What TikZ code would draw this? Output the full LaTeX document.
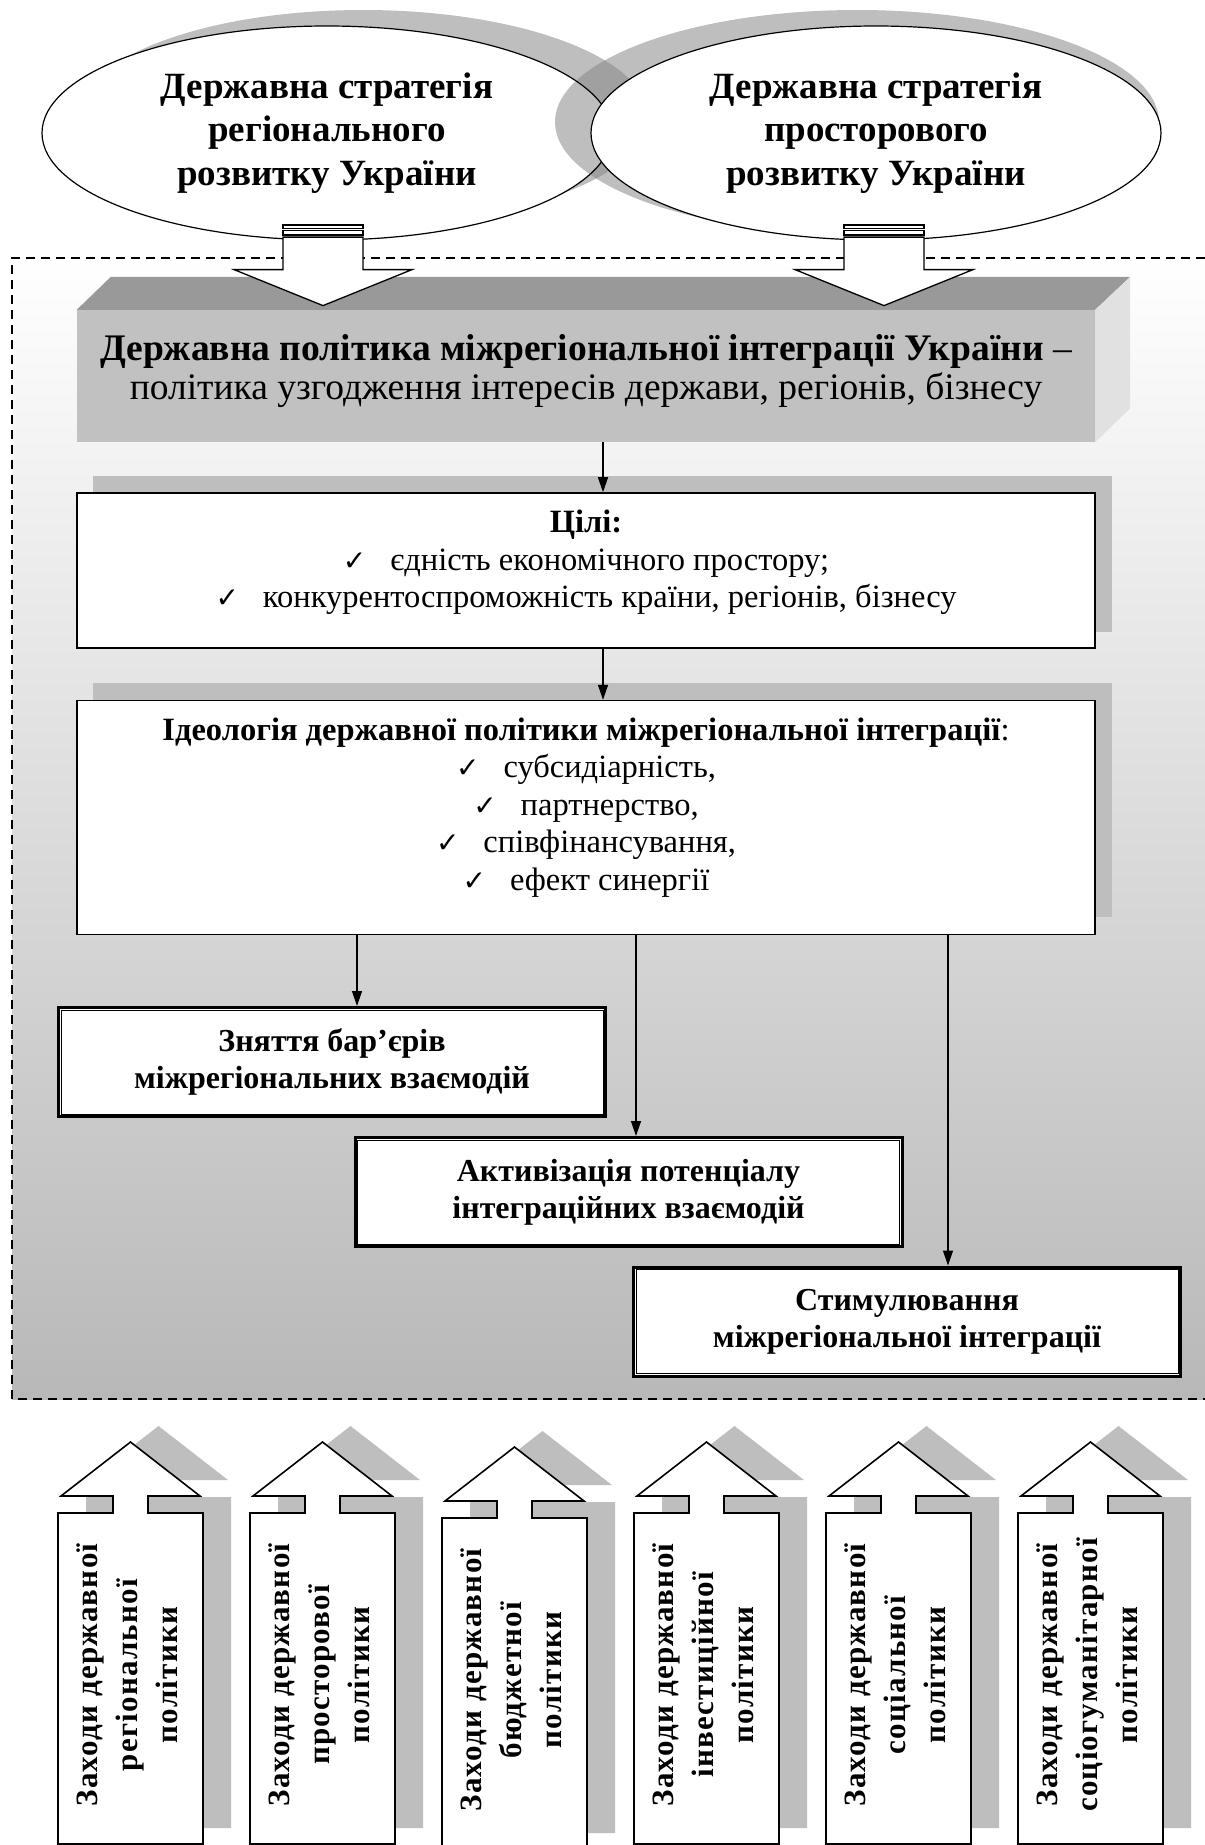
\documentclass[tikz,border=0pt]{standalone}
\usepackage{fontspec}
\setmainfont{Liberation Serif}
\newfontfamily\symfont{DejaVu Sans}
\usepackage{tikz}
\usetikzlibrary{shapes.geometric, arrows.meta, positioning, calc}
\definecolor{shadowgray}{RGB}{190,190,190}
\definecolor{notchgray}{RGB}{160,160,160}
\definecolor{topface}{RGB}{153,153,153}
\definecolor{frontface}{RGB}{193,193,193}
\definecolor{sideface}{RGB}{225,225,225}
\definecolor{framebottom}{RGB}{184,184,184}
\newcommand{\chk}{{\symfont\fontsize{28}{28}\selectfont ✓}\hspace{24pt}}

\begin{document}
\begin{tikzpicture}[x=1pt, y=-1pt,
    oval/.style={ellipse, draw, fill=white, line width=1.2pt, minimum width=570pt, minimum height=214pt, inner sep=0pt, align=center, font=\fontsize{37}{43.5}\selectfont\bfseries},
    front/.style={rectangle, fill=frontface, minimum width=1018pt, minimum height=132pt, inner sep=0pt, align=center, text depth=18pt, font=\fontsize{37.5}{39}\selectfont},
    listbox/.style={rectangle, draw, line width=1.6pt, fill=white, minimum width=1018pt, inner sep=0pt, align=center, font=\fontsize{32.5}{37.5}\selectfont},
    dblbox/.style={rectangle, draw, line width=3pt, fill=white, minimum width=547pt, minimum height=109pt, inner sep=0pt, align=center, font=\fontsize{32}{37}\selectfont\bfseries},
    arr/.style={-{Triangle[length=15pt, width=10pt]}, line width=1.3pt},
    bigarrow/.style={draw, fill=white, line width=1.3pt},
    upbox/.style={draw, fill=white, line width=1.6pt},
    upshadow/.style={fill=shadowgray},
    uptext/.style={rotate=90, inner sep=0pt, align=center, font=\fontsize{31}{40}\selectfont\bfseries\addfontfeatures{LetterSpace=4}},
    uparrow/.pic={\path[pic actions] (0,331) -- (0,0) -- (55,0) -- (55,-17) -- (3,-17) -- (72.5,-71) -- (142,-17) -- (90,-17) -- (90,0) -- (145,0) -- (145,331) -- cycle;}
]
    \useasboundingbox (0,0) rectangle (1205,1845);

    % dashed frame with gradient
    \shade[top color=white, bottom color=framebottom] (12,258) rectangle (1205,1399);
    \draw[line width=2.4pt, dash pattern=on 9pt off 6pt] (1205,258) -- (12,258) -- (12,1399) -- (1205,1399);

    % strategies with their shadows
    \fill[shadowgray] (363,117) ellipse [x radius=285, y radius=107];
    \node[oval] (regl) at (327,133) {Державна стратегія\\регіонального\\розвитку України};
    \fill[shadowgray] (857,122) ellipse [x radius=302, y radius=112];
    \begin{scope}[even odd rule]
        \clip (363,117) ellipse [x radius=285, y radius=107];
        \clip (0,0) rectangle (1205,300) (regl.center) ellipse [x radius=285, y radius=107];
        \fill[notchgray] (857,122) ellipse [x radius=302, y radius=112];
    \end{scope}
    \begin{scope}
        \clip (857,122) ellipse [x radius=302, y radius=112];
        \draw[line width=1.2pt] (regl.center) ellipse [x radius=285, y radius=107];
    \end{scope}
    \node[oval] (spat) at (876,133) {Державна стратегія\\просторового\\розвитку України};

    % 3d block
    \node[front] (main) at (586,376) {\textbf{Державна політика міжрегіональної інтеграції України} –\\політика узгодження інтересів держави, регіонів, бізнесу};
    \fill[topface] (main.north west) -- ++(34,-33) -- ($(main.north east)+(35,-33)$) -- (main.north east) -- cycle;
    \fill[sideface] (main.north east) -- ++(35,-33) -- ($(main.south east)+(35,-34)$) -- (main.south east) -- cycle;

    % big striped arrows
    \foreach \src/\dx in {regl/-4, spat/8} {
        \begin{scope}[shift={($(\src.south)+(\dx,-16)$)}]
            \draw[bigarrow] (-40,0.5) rectangle (40,4);
            \draw[bigarrow] (-40,6) rectangle (40,10.5);
            \draw[bigarrow] (-40,12.5) -- (40,12.5) -- (40,45) -- (89,45) -- (0,81) -- (-89,45) -- (-40,45) -- cycle;
        \end{scope}
    }

    \fill[shadowgray] (93,476) rectangle (1112,632);
    \node[listbox, minimum height=155pt, text depth=23pt, below=50pt of main] (goals) {\textbf{Цілі:}\\\chk єдність економічного простору;\\\chk конкурентоспроможність країни, регіонів, бізнесу};
    \fill[shadowgray] (93,683) rectangle (1112,917);
    \node[listbox, minimum height=234pt, text depth=27pt, below=51pt of goals] (ideo) {\textbf{Ідеологія державної політики міжрегіональної інтеграції}:\\\chk субсидіарність,\\\chk партнерство,\\\chk співфінансування,\\\chk ефект синергії};

    \node[dblbox] (barr) at (332,1062) {Зняття бар’єрів\\міжрегіональних взаємодій};
    \node[dblbox] (activ) at (628.5,1192) {Активізація потенціалу\\інтеграційних взаємодій};
    \node[dblbox] (stim) at (907,1321.5) {Стимулювання\\міжрегіональної інтеграції};
    \foreach \n in {barr,activ,stim}
        \draw[line width=1pt] ([shift={(4,4)}]\n.north west) rectangle ([shift={(-4,-4)}]\n.south east);

    \draw[arr] ([xshift=17pt]main.south) -- ([xshift=17pt]goals.north);
    \draw[arr] ([xshift=17pt]goals.south) -- ([xshift=17pt]ideo.north);
    \draw[arr] ([xshift=25pt]barr.north |- ideo.south) -- ([xshift=25pt]barr.north);
    \draw[arr] ([xshift=7.5pt]activ.north |- ideo.south) -- ([xshift=7.5pt]activ.north);
    \draw[arr] ([xshift=41pt]stim.north |- ideo.south) -- ([xshift=41pt]stim.north);

    % measures
    \foreach \txt [count=\i] in {{Заходи державної\\регіональної\\політики}, {Заходи державної\\просторової\\політики}, {Заходи державної\\бюджетної\\політики}, {Заходи державної\\інвестиційної\\політики}, {Заходи державної\\соціальної\\політики}, {Заходи державної\\соціогуманітарної\\політики}} {
        \pgfmathsetmacro\L{58+192*(\i-1)}
        \pgfmathsetmacro\D{ifthenelse(\i==3,5,0)}
        \begin{scope}[shift={(\L,\D)}]
            \pic[upshadow] at (28,1497) {uparrow};
            \pic[upbox] at (0,1513) {uparrow};
            \node[uptext] (m\i) at (69,1675) {\txt};
        \end{scope}
    }
\end{tikzpicture}
\end{document}
